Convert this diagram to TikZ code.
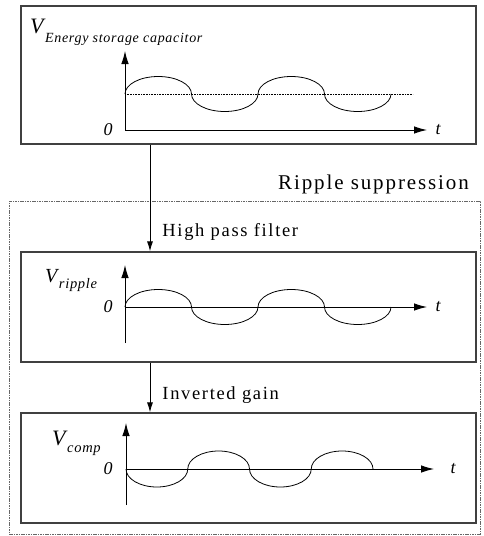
\documentclass[tikz,border=0pt]{standalone}
\usepackage{fontspec}
\setmainfont{Liberation Serif}
\newfontfamily\spacedfont[LetterSpace=9]{Liberation Serif}
\newfontfamily\subfont[LetterSpace=5]{Liberation Serif}
\usetikzlibrary{arrows.meta}
\begin{document}
\begin{tikzpicture}[x=1pt,y=-1pt,
  panel/.style={draw=black!75,line width=1.3pt,minimum width=455pt,inner sep=0pt},
  axis/.style={line width=0.9pt,-{Latex[length=13pt,width=7.5pt]}},
  wave/.style={line width=0.8pt},
  conn/.style={line width=0.9pt,-{Latex[length=10pt,width=6pt]}},
  lbl/.style={inner sep=0pt,font=\spacedfont\fontsize{18.5}{18.5}\selectfont},
  ax/.style={inner sep=0pt,font=\itshape\fontsize{18}{18}\selectfont},
  vlab/.style={inner sep=0pt,anchor=base west}]
\useasboundingbox (0,0) rectangle (483,536);
% ripple suppression frame
\node[draw=black!60,line width=0.6pt,dash pattern=on 1.6pt off 0.8pt,inner sep=0pt,
  minimum width=471pt,minimum height=333pt] (frame) at (244.5,367.5) {};
\node[lbl,anchor=base west,font=\spacedfont\fontsize{21}{21}\selectfont] (rs) at (278,189) {Ripple suppression};
% panels
\node[panel,minimum height=138pt] (b1) at (248.5,75) {};
\node[panel,minimum height=110pt] (b2) at (248.5,307) {};
\node[panel,minimum height=110pt] (b3) at (248.5,468) {};
% connectors
\draw[conn] ([xshift=-98.5pt]b1.south) -- ([xshift=-98.5pt]b2.north) node[lbl,anchor=base west,pos=0.83,xshift=12pt,yshift=-3pt] (hp) {High pass filter};
\draw[conn] ([xshift=-98.5pt]b2.south) -- ([xshift=-98.5pt]b3.north) node[lbl,anchor=base west,pos=0.5,xshift=12pt,yshift=-12pt] (ig) {Inverted gain};
% panel 1
\draw[axis] (125,130) -- (125,51);
\draw[axis] (125,130) -- (427,130);
\draw[line width=0.6pt,dash pattern=on 0.8pt off 0.8pt] (125,94) -- (413,94);
\draw[wave] (125,94) arc[start angle=180,end angle=0,x radius=33.25pt,y radius=17.5pt]
  arc[start angle=180,end angle=360,x radius=33.25pt,y radius=17.5pt]
  arc[start angle=180,end angle=0,x radius=33.25pt,y radius=17.5pt]
  arc[start angle=180,end angle=360,x radius=33.25pt,y radius=17.5pt];
\node[ax] (t1) at (438,130) {t};
\node[ax] (z1) at (108,130) {0};
\node[vlab] (v1) at (30,33) {\itshape\fontsize{22}{22}\selectfont V\hspace{1.5pt}\raisebox{-9pt}{\subfont\itshape\fontsize{14}{14}\selectfont Energy storage capacitor}};
% panel 2
\draw[axis] (125,343) -- (125,265);
\draw[axis] (125,307) -- (427,307);
\draw[wave] (125,307) arc[start angle=180,end angle=0,x radius=33.25pt,y radius=17.5pt]
  arc[start angle=180,end angle=360,x radius=33.25pt,y radius=17.5pt]
  arc[start angle=180,end angle=0,x radius=33.25pt,y radius=17.5pt]
  arc[start angle=180,end angle=360,x radius=33.25pt,y radius=17.5pt];
\node[ax] (t2) at (438,307) {t};
\node[ax] (z2) at (108,307) {0};
\node[vlab] (v2) at (45,282) {\itshape\fontsize{20}{20}\selectfont V\hspace{1.5pt}\raisebox{-6pt}{\subfont\itshape\fontsize{14.5}{14.5}\selectfont ripple}};
% panel 3
\draw[axis] (126,505) -- (126,423);
\draw[axis] (126,469) -- (434,469);
\draw[wave] (126,469) arc[start angle=180,end angle=360,x radius=30.875pt,y radius=18pt]
  arc[start angle=180,end angle=0,x radius=30.875pt,y radius=18pt]
  arc[start angle=180,end angle=360,x radius=30.875pt,y radius=18pt]
  arc[start angle=180,end angle=0,x radius=30.875pt,y radius=18pt];
\node[ax] (t3) at (453,469) {t};
\node[ax] (z3) at (108,469) {0};
\node[vlab] (v3) at (52,445) {\itshape\fontsize{22}{22}\selectfont V\hspace{1.5pt}\raisebox{-7pt}{\subfont\itshape\fontsize{14.5}{14.5}\selectfont comp}};
\end{tikzpicture}
\end{document}
